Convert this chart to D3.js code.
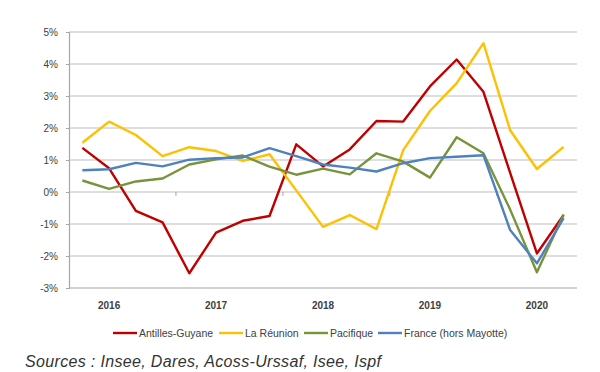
<!DOCTYPE html>
<html>
<head>
<meta charset="utf-8">
<script src="https://cdn.jsdelivr.net/npm/d3@7"></script>
<style>
  body { margin: 0; background: #fff; }
  svg { display: block; font-family: "Liberation Sans", Arial, sans-serif; }
</style>
</head>
<body>
<svg id="chart" width="600" height="372"></svg>
<script>
// quarters 2016T1 .. 2020T3
var quarters = ["2016T1","2016T2","2016T3","2016T4","2017T1","2017T2","2017T3","2017T4",
  "2018T1","2018T2","2018T3","2018T4","2019T1","2019T2","2019T3","2019T4",
  "2020T1","2020T2","2020T3"]
var yearLabels = ["2016","2017","2018","2019","2020"]
var yTicks = [-3,-2,-1,0,1,2,3,4,5]

var antilles = [1.38,0.74,-0.59,-0.95,-2.54,-1.27,-0.9,-0.75,1.49,0.8,1.33,2.22,2.2,3.3,4.14,3.13,0.6,-1.92,-0.72]
var reunion  = [1.54,2.2,1.78,1.12,1.4,1.28,0.97,1.18,0.05,-1.09,-0.72,-1.16,1.31,2.53,3.4,4.65,1.93,0.72,1.41]
var pacifique = [0.36,0.1,0.33,0.42,0.86,1.02,1.14,0.79,0.54,0.73,0.55,1.21,0.95,0.45,1.71,1.21,-0.55,-2.51,-0.7]
var france   = [0.68,0.71,0.91,0.8,1.01,1.06,1.08,1.37,1.12,0.86,0.76,0.64,0.9,1.06,1.1,1.15,-1.19,-2.23,-0.82]

var seriesNames = ["Antilles-Guyane","La Réunion","Pacifique","France (hors Mayotte)"]
var seriesColors = ["#C00000","#FFC000","#77933C","#4F81BD"]

var series = [antilles, reunion, pacifique, france].map(function(v, i){
  return { name: seriesNames[i], color: seriesColors[i], values: v }
})

var svg = d3.select("#chart")
var plotL = 69, plotR = 577, plotT = 32, plotB = 288

var x = d3.scaleBand().domain(quarters).range([plotL, plotR]).paddingInner(0).paddingOuter(0)
var y = d3.scaleLinear().domain([-3, 5]).range([plotB, plotT])

// gridlines
svg.append("g")
  .selectAll("line")
  .data(yTicks)
  .enter().append("line")
    .attr("x1", plotL).attr("x2", plotR)
    .attr("y1", function(d){ return y(d) }).attr("y2", function(d){ return y(d) })
    .attr("stroke", function(d){ return d == -3 ? "#a6a6a6" : "#bdbdbd" })
    .attr("stroke-width", 1.2)

// y axis
var yAxis = svg.append("g")
  .attr("transform", "translate(" + plotL + ",0)")
  .call(d3.axisLeft(y).tickValues(yTicks).tickSize(3).tickPadding(8)
    .tickFormat(function(d){ return d + "%" }))
yAxis.select(".domain").attr("stroke", "#a6a6a6").attr("stroke-width", 1.2)
yAxis.selectAll(".tick line").attr("stroke", "#a6a6a6")
yAxis.selectAll("text")
  .style("font-size", "10px").attr("fill", "#404040")
  .style("font-family", "\"Liberation Sans\", Arial, sans-serif")

// year tick marks on the 0% line
svg.append("g")
  .selectAll("line")
  .data(quarters.filter(function(q, i){ return i > 0 && i % 4 == 0 }))
  .enter().append("line")
    .attr("x1", function(d){ return x(d) }).attr("x2", function(d){ return x(d) })
    .attr("y1", y(0)).attr("y2", y(0) + 4)
    .attr("stroke", "#a6a6a6")

// year labels (under 2nd quarter of each year)
svg.append("g")
  .selectAll("text")
  .data(yearLabels)
  .enter().append("text")
    .attr("x", function(d, i){ return x(quarters[i*4 + 1]) + x.bandwidth()/2 })
    .attr("y", 309)
    .attr("text-anchor", "middle")
    .style("font-size", "10px").style("font-weight", "bold")
    .attr("fill", "#404040")
    .text(function(d){ return d })

// lines
var line = d3.line()
  .x(function(d, i){ return x(quarters[i]) + x.bandwidth()/2 })
  .y(function(d){ return y(d) })

svg.append("g")
  .selectAll("path")
  .data(series)
  .enter().append("path")
    .attr("d", function(d){ return line(d.values) })
    .attr("fill", "none")
    .attr("stroke", function(d){ return d.color })
    .attr("stroke-width", 2.4)
    .attr("stroke-linejoin", "round")

// legend
var legendX = [113, 219, 304, 378]
var legend = svg.append("g")
  .selectAll("g")
  .data(series)
  .enter().append("g")
    .attr("transform", function(d, i){ return "translate(" + legendX[i] + ",333)" })
legend.append("line")
  .attr("x1", 0).attr("x2", 24)
  .attr("stroke", function(d){ return d.color })
  .attr("stroke-width", 2.4)
legend.append("text")
  .attr("x", 26).attr("y", 3.8)
  .style("font-size", "10.5px")
  .attr("fill", "#404040")
  .text(function(d){ return d.name })

// source
svg.append("text")
  .attr("x", 25).attr("y", 367)
  .style("font-size", "16px").style("font-style", "italic")
  .attr("fill", "#333")
  .attr("textLength", 356).attr("lengthAdjust", "spacing")
  .text("Sources : Insee, Dares, Acoss-Urssaf, Isee, Ispf")
</script>
</body>
</html>
